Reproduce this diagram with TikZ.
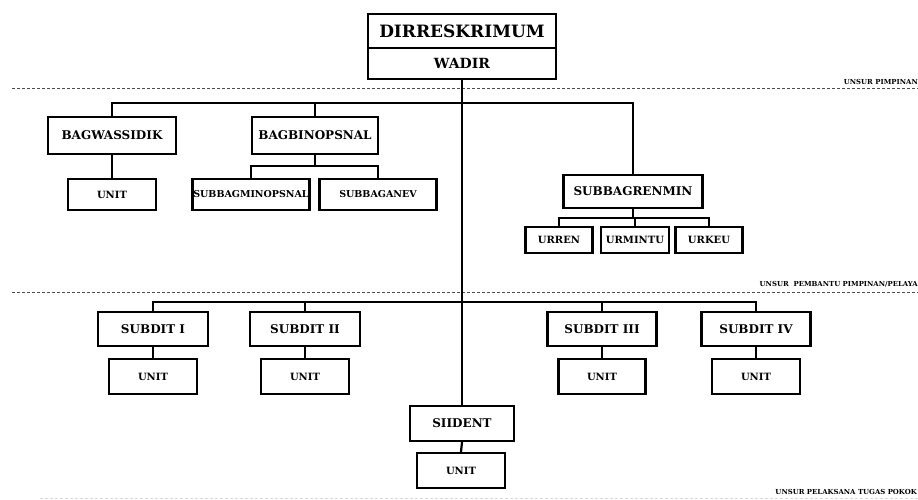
\documentclass[tikz,border=0pt]{standalone}
\usepackage{fontspec}
\setmainfont{DejaVu Serif}
\begin{document}
\begin{tikzpicture}[x=1pt,y=-1pt,
  box/.style={draw,line width=2.2pt,inner sep=0pt,font=\bfseries},
  conn/.style={line width=2.2pt},
  sep/.style={draw=black!70,line width=1pt,dash pattern=on 3pt off 2pt},
  fA/.style={font=\fontsize{17}{17}\bfseries},
  fB/.style={font=\fontsize{14}{14}\bfseries},
  fC/.style={font=\fontsize{12}{12}\bfseries},
  fD/.style={font=\fontsize{10}{10}\bfseries},
  fE/.style={font=\fontsize{9.5}{9.5}\bfseries},
  lab/.style={font=\fontsize{6.9}{6.9}\bfseries,anchor=east,inner sep=0pt}
]
\useasboundingbox (0,0) rectangle (918,499);
% separators
\draw[sep] (12,88) -- (918,88);
\draw[sep] (12,292) -- (918,292);
\draw[draw=black!15,line width=1pt,dash pattern=on 3pt off 2pt] (40,498) -- (918,498);
\node[lab] (l1) at (918,82) {UNSUR PIMPINAN};
\node[lab] (l2) at (918,284) {UNSUR\ \ PEMBANTU PIMPINAN/PELAYA};
\node[lab] (l3) at (917,492) {UNSUR PELAKSANA TUGAS POKOK};
% top
\node[box,fA,minimum width=188pt,minimum height=34pt] (dir) at (462,31) {DIRRESKRIMUM};
\node[box,fB,minimum width=188pt,minimum height=31pt] (wadir) at (462,63.5) {WADIR};
% staff
\node[box,fC,minimum width=128pt,minimum height=37pt] (bw) at (112,135.5) {BAGWASSIDIK};
\node[box,fD,minimum width=88pt,minimum height=31pt] (bwu) at (112,194.5) {UNIT};
\node[box,fC,minimum width=126pt,minimum height=37pt] (bb) at (315,135.5) {BAGBINOPSNAL};
\node[box,fE,minimum width=117pt,minimum height=31pt] (bb1) at (251,194.5) {SUBBAGMINOPSNAL};
\node[box,fE,minimum width=117pt,minimum height=31pt] (bb2) at (378,194.5) {SUBBAGANEV};
\node[box,fC,minimum width=139pt,minimum height=33pt] (sr) at (633,191.5) {SUBBAGRENMIN};
\node[box,fD,minimum width=67pt,minimum height=26pt] (sr1) at (559,240) {URREN};
\node[box,fD,minimum width=68pt,minimum height=26pt] (sr2) at (635,240) {URMINTU};
\node[box,fD,minimum width=67pt,minimum height=26pt] (sr3) at (709,240) {URKEU};
% line units
\node[box,fC,minimum width=110pt,minimum height=34pt] (s1) at (153,329) {SUBDIT I};
\node[box,fD,minimum width=88pt,minimum height=35pt] (s1u) at (153,376.5) {UNIT};
\node[box,fC,minimum width=110pt,minimum height=34pt] (s2) at (305,329) {SUBDIT II};
\node[box,fD,minimum width=88pt,minimum height=35pt] (s2u) at (305,376.5) {UNIT};
\node[box,fC,minimum width=109pt,minimum height=34pt] (s3) at (602,329) {SUBDIT III};
\node[box,fD,minimum width=87pt,minimum height=35pt] (s3u) at (602,376.5) {UNIT};
\node[box,fC,minimum width=109pt,minimum height=34pt] (s4) at (756,329) {SUBDIT IV};
\node[box,fD,minimum width=88pt,minimum height=35pt] (s4u) at (756,376.5) {UNIT};
\node[box,fC,minimum width=104pt,minimum height=35pt] (si) at (462,423.5) {SIIDENT};
\node[box,fD,minimum width=88pt,minimum height=35pt] (siu) at (461,470.5) {UNIT};
% connectors
\coordinate (r1) at (462,103);
\coordinate (r2) at (462,302);
\draw[conn] (wadir.south) -- (si.north);
\draw[conn] (bw.north) |- (r1) -| (sr.north);
\draw[conn] (bb.north) -- (bb.north |- r1);
\draw[conn] (bw.south) -- (bwu.north);
\coordinate (b1) at (315,166);
\draw[conn] (bb.south) -- (b1);
\draw[conn] (bb1.north) |- (b1) -| (bb2.north);
\coordinate (b2) at (633,218);
\draw[conn] (sr.south) -- (b2);
\draw[conn] (sr1.north) |- (b2) -| (sr3.north);
\draw[conn] (sr2.north) -- (sr2.north |- b2);
\draw[conn] (s1.north) |- (r2) -| (s4.north);
\draw[conn] (s2.north) -- (s2.north |- r2);
\draw[conn] (s3.north) -- (s3.north |- r2);
\draw[conn] (s1.south) -- (s1u.north);
\draw[conn] (s2.south) -- (s2u.north);
\draw[conn] (s3.south) -- (s3u.north);
\draw[conn] (s4.south) -- (s4u.north);
\draw[conn] (si.south) -- (siu.north);
\end{tikzpicture}
\end{document}
